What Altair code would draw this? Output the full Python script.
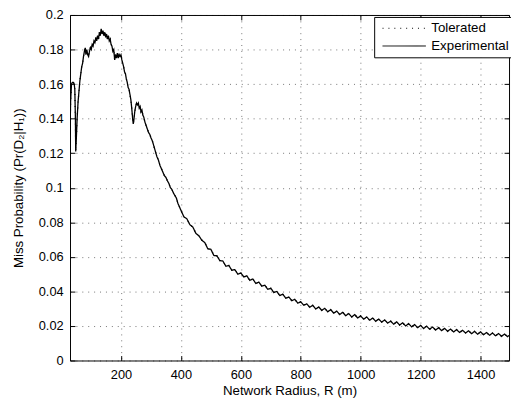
import altair as alt
import pandas as pd

series_names = ["Tolerated", "Experimental"]

radius_head = [30, 32, 35, 38, 41, 44, 46, 48, 49, 51, 54, 57, 60, 63, 66, 69, 72, 75, 78, 81,
               83, 86, 89, 92, 95, 98, 101, 104, 107, 110, 113, 116, 119, 122, 125, 128, 131, 134,
               137, 140, 143, 146, 149, 152, 155, 158, 161, 164, 167, 170, 173, 176, 179, 182, 185,
               188, 191, 194, 197, 200, 203, 206, 209, 212, 215, 218, 221, 224, 227, 230, 233, 236,
               239, 241, 243, 246, 249, 252, 255, 258, 261, 264, 267, 270, 273, 276, 280, 284, 288,
               292, 296, 300, 305, 310, 315, 320, 325, 330, 335, 340, 345, 350, 355, 360, 365, 370,
               375, 380, 385, 390, 395]
miss_head = [0.131, 0.150, 0.160, 0.161, 0.161, 0.160, 0.157, 0.140, 0.121, 0.128, 0.141, 0.150,
             0.156, 0.162, 0.166, 0.170, 0.172, 0.176, 0.179, 0.181, 0.177, 0.180, 0.177, 0.176,
             0.179, 0.181, 0.180, 0.183, 0.182, 0.185, 0.184, 0.187, 0.185, 0.188, 0.186, 0.190,
             0.188, 0.192, 0.189, 0.191, 0.188, 0.190, 0.187, 0.189, 0.186, 0.188, 0.185, 0.186,
             0.183, 0.182, 0.179, 0.180, 0.174, 0.177, 0.175, 0.178, 0.175, 0.177, 0.176, 0.177,
             0.174, 0.172, 0.170, 0.167, 0.166, 0.163, 0.161, 0.158, 0.157, 0.154, 0.151, 0.146,
             0.140, 0.137, 0.139, 0.144, 0.147, 0.149, 0.148, 0.149, 0.146, 0.147, 0.144, 0.145,
             0.142, 0.141, 0.138, 0.136, 0.134, 0.132, 0.131, 0.129, 0.127, 0.124, 0.121, 0.118,
             0.116, 0.113, 0.111, 0.109, 0.107, 0.106, 0.104, 0.1025, 0.100, 0.099, 0.097, 0.0955,
             0.094, 0.091, 0.089]

radius_tail = [400, 410, 420, 430, 440, 450, 460, 470, 480, 490, 500, 510, 520, 530, 540, 550, 560,
               570, 580, 590, 600, 610, 620, 630, 640, 650, 660, 670, 680, 690, 700, 710, 720, 730,
               740, 750, 760, 770, 780, 790, 800, 810, 820, 830, 840, 850, 860, 870, 880, 890, 900,
               910, 920, 930, 940, 950, 960, 970, 980, 990, 1000, 1010, 1020, 1030, 1040, 1050, 1060,
               1070, 1080, 1090, 1100, 1110, 1120, 1130, 1140, 1150, 1160, 1170, 1180, 1190, 1200,
               1210, 1220, 1230, 1240, 1250, 1260, 1270, 1280, 1290, 1300, 1310, 1320, 1330, 1340,
               1350, 1360, 1370, 1380, 1390, 1400, 1410, 1420, 1430, 1440, 1450, 1460, 1470, 1480,
               1490, 1495]
miss_tail = [0.0870, 0.0832, 0.0820, 0.0786, 0.0772, 0.0736, 0.0722, 0.0696, 0.0682, 0.0646, 0.0644,
             0.0608, 0.0606, 0.0578, 0.0576, 0.0546, 0.0550, 0.0522, 0.0526, 0.0500, 0.0506, 0.0484,
             0.0490, 0.0464, 0.0472, 0.0446, 0.0454, 0.0430, 0.0436, 0.0412, 0.0418, 0.0394, 0.0400,
             0.0376, 0.0384, 0.0360, 0.0368, 0.0346, 0.0354, 0.0332, 0.0340, 0.0320, 0.0328, 0.0308,
             0.0320, 0.0298, 0.0310, 0.0290, 0.0302, 0.0282, 0.0294, 0.0274, 0.0286, 0.0266, 0.0279,
             0.0259, 0.0272, 0.0252, 0.0266, 0.0246, 0.0258, 0.0239, 0.0252, 0.0233, 0.0246, 0.0227,
             0.0240, 0.0222, 0.0235, 0.0216, 0.0228, 0.0210, 0.0224, 0.0205, 0.0218, 0.0200, 0.0213,
             0.0195, 0.0208, 0.0190, 0.0203, 0.0185, 0.0199, 0.0181, 0.0194, 0.0176, 0.0190, 0.0173,
             0.0186, 0.0169, 0.0182, 0.0165, 0.0179, 0.0162, 0.0175, 0.0159, 0.0172, 0.0155, 0.0169,
             0.0152, 0.0166, 0.0149, 0.0162, 0.0146, 0.0159, 0.0143, 0.0156, 0.0140, 0.0153, 0.0138,
             0.0145]

x_ticks = [200, 400, 600, 800, 1000, 1200, 1400]
y_ticks = [0, 0.02, 0.04, 0.06, 0.08, 0.1, 0.12, 0.14, 0.16, 0.18, 0.2]
x_domain = [30, 1495]
y_domain = [0, 0.2]

radius = radius_head + radius_tail
miss = miss_head + miss_tail
rows = []
for s in series_names:
    for r, m in zip(radius, miss):
        rows.append({"R": r, "P": m, "series": s})
df = pd.DataFrame(rows)

FONT = "Liberation Sans"
x_scale = alt.Scale(domain=x_domain, nice=False, zero=False)
y_scale = alt.Scale(domain=y_domain, nice=False, zero=False)

grid_kw = dict(grid=True, gridColor="#000000", gridOpacity=0.55, gridDash=[1, 5], gridWidth=1)

x_axis = alt.Axis(values=x_ticks, format="d", title="Network Radius, R (m)", offset=-5,
                  tickSize=5, tickColor="black", tickWidth=1, domain=False,
                  labelFont=FONT, labelFontSize=13, labelColor="black", labelPadding=8,
                  titleFont=FONT, titleFontSize=13.5, titleFontWeight="normal", titleColor="black",
                  titlePadding=3, **grid_kw)
y_axis = alt.Axis(values=y_ticks, format="~g", title="Miss Probability (Pr(D\u2082|H\u2081))",
                  offset=-5, tickSize=5, tickColor="black", tickWidth=1, domain=False,
                  labelFont=FONT, labelFontSize=13, labelColor="black", labelPadding=7,
                  titleFont=FONT, titleFontSize=13.5, titleFontWeight="normal", titleColor="black",
                  titlePadding=13, **grid_kw)

legend = alt.Legend(orient="none", legendX=309, legendY=2, title=None, strokeColor="black",
                    fillColor="white", padding=5, symbolType="stroke", symbolSize=1936,
                    symbolStrokeWidth=1, symbolStrokeColor="black", symbolOffset=3, labelOffset=5,
                    labelFont=FONT, labelFontSize=13.5, labelColor="black", clipHeight=13,
                    rowPadding=4, cornerRadius=0, labelLimit=0)

lines = alt.Chart(df).mark_line(color="black", strokeWidth=1.3, clip=True).encode(
    x=alt.X("R:Q", scale=x_scale, axis=x_axis),
    y=alt.Y("P:Q", scale=y_scale, axis=y_axis),
    strokeDash=alt.StrokeDash("series:N",
                              scale=alt.Scale(domain=series_names, range=[[1, 5], [1, 0]]),
                              legend=legend),
)

top_right = alt.Chart(df).mark_point(opacity=0).encode(
    x=alt.X("R:Q", scale=x_scale,
            axis=alt.Axis(orient="top", values=x_ticks, labels=False, title=None, grid=False,
                          domain=False, offset=-5, tickSize=5, tickColor="black")),
    y=alt.Y("P:Q", scale=y_scale,
            axis=alt.Axis(orient="right", values=y_ticks, labels=False, title=None, grid=False,
                          domain=False, offset=-5, tickSize=5, tickColor="black")),
)

chart = alt.layer(lines, top_right).resolve_axis(x="independent", y="independent").properties(
    width=446, height=351, autosize=alt.AutoSizeParams(type="none"),
    padding={"left": 63, "top": 4, "right": 2, "bottom": 35},
    background="white",
).configure_view(stroke="black", strokeWidth=1)

chart.save("out.html", embed_options={"renderer": "svg", "actions": False})
